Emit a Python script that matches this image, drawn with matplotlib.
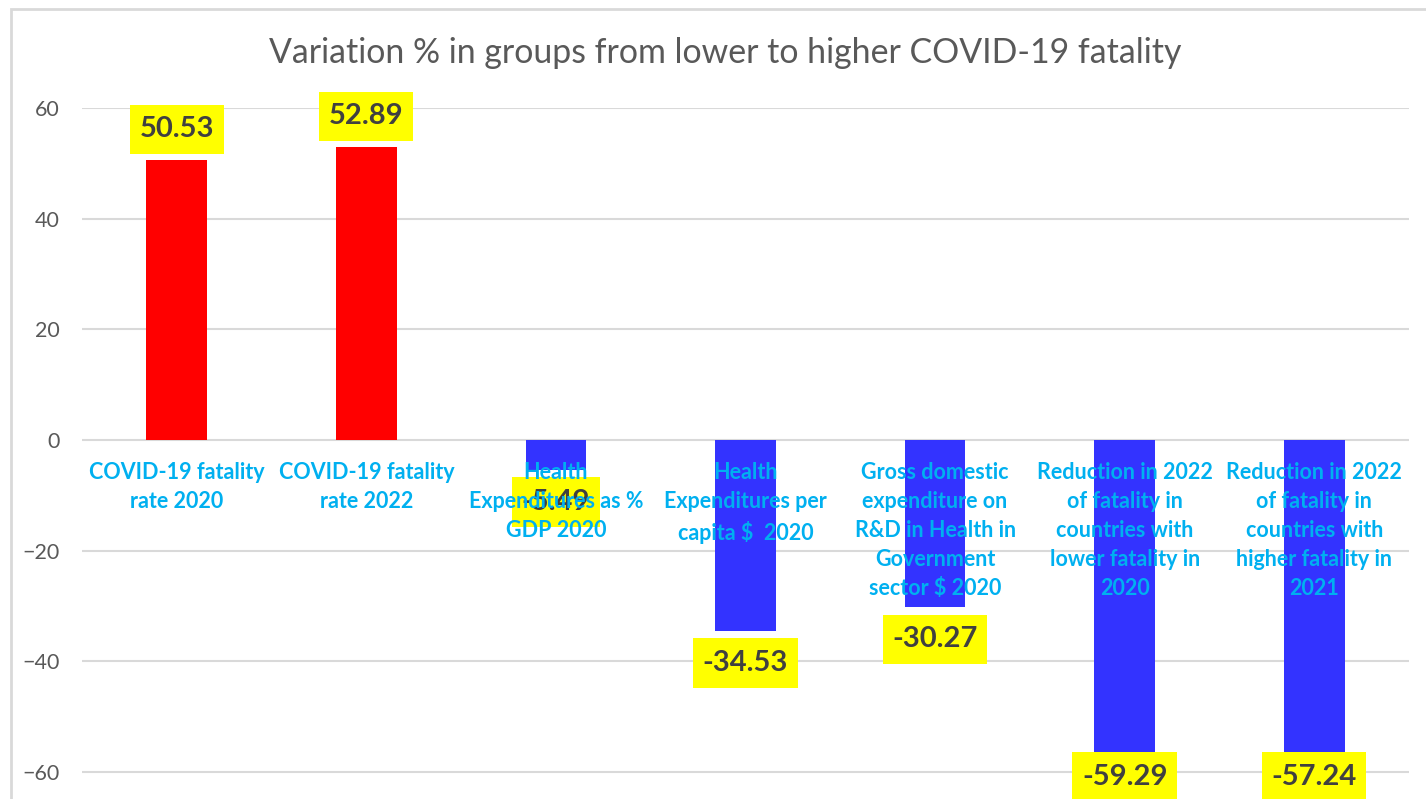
import matplotlib.pyplot as plt
from matplotlib.patches import Rectangle

plt.rcParams['font.family'] = ['Lato', 'DejaVu Sans']

categories = [
    'COVID-19 fatality\nrate 2020',
    'COVID-19 fatality\nrate 2022',
    'Health\nExpenditures as %\nGDP 2020',
    'Health\nExpenditures per\ncapita $  2020',
    'Gross domestic\nexpenditure on\nR&D in Health in\nGovernment\nsector $ 2020',
    'Reduction in 2022\nof fatality in\ncountries with\nlower fatality in\n2020',
    'Reduction in 2022\nof fatality in\ncountries with\nhigher fatality in\n2021',
]
values = [50.53, 52.89, -5.49, -34.53, -30.27, -59.29, -57.24]
yticks = [-60, -40, -20, 0, 20, 40, 60]

fig = plt.figure(figsize=(14.26, 7.99), dpi=100)
ax = fig.add_axes([82 / 1426, 0, 1327 / 1426, 691 / 799])

# outer chart frame (cut off on right and bottom like the source)
fig.patches.append(Rectangle((11 / 1426, -0.05), 1.1, 1 - 9 / 799 + 0.05,
                             transform=fig.transFigure, fill=False,
                             edgecolor='#D9D9D9', linewidth=2, zorder=0))

ymin, ymax = -64.88, 60
x = list(range(len(values)))
colors = ['#FF0000' if v > 0 else '#3333FF' for v in values]
ax.bar(x, values, width=0.32, color=colors, zorder=2)

ax.set_xlim(-0.5, len(values) - 0.5)
ax.set_ylim(ymin, ymax)
ax.set_yticks(yticks)
ax.set_xticks([])
ax.grid(axis='y', color='#D9D9D9', linewidth=1.5, zorder=0)
ax.set_axisbelow(True)
for s in ax.spines.values():
    s.set_visible(False)
ax.tick_params(axis='y', length=0, pad=16, labelsize=15.5, labelcolor='#595959')

# data labels: outside end, pushed back inside the plot area when needed
for i, v in enumerate(values):
    if v > 0:
        ly = v + 5.6
    else:
        ly = max(v - 5.75, ymin + 4.0)
    ax.text(i, ly, f'{v:.2f}', ha='center', va='center', fontsize=21,
            fontweight='bold', color='#404040', zorder=3, clip_on=False,
            bbox=dict(boxstyle='square,pad=0.33', facecolor='#FFFF00',
                      edgecolor='none', mutation_aspect=1.22))

for i, c in enumerate(categories):
    ax.annotate(c, (i, 0), xytext=(0, -15.5), textcoords='offset points',
                ha='center', va='top', fontsize=15.5, fontweight='bold',
                color='#00B0F0', linespacing=1.48, zorder=4)

fig.text(725 / 1426, 1 - 53 / 799,
         'Variation % in groups from lower to higher COVID-19 fatality',
         ha='center', va='center', fontsize=24.4, color='#595959')

fig.savefig('out.png', dpi=100)
